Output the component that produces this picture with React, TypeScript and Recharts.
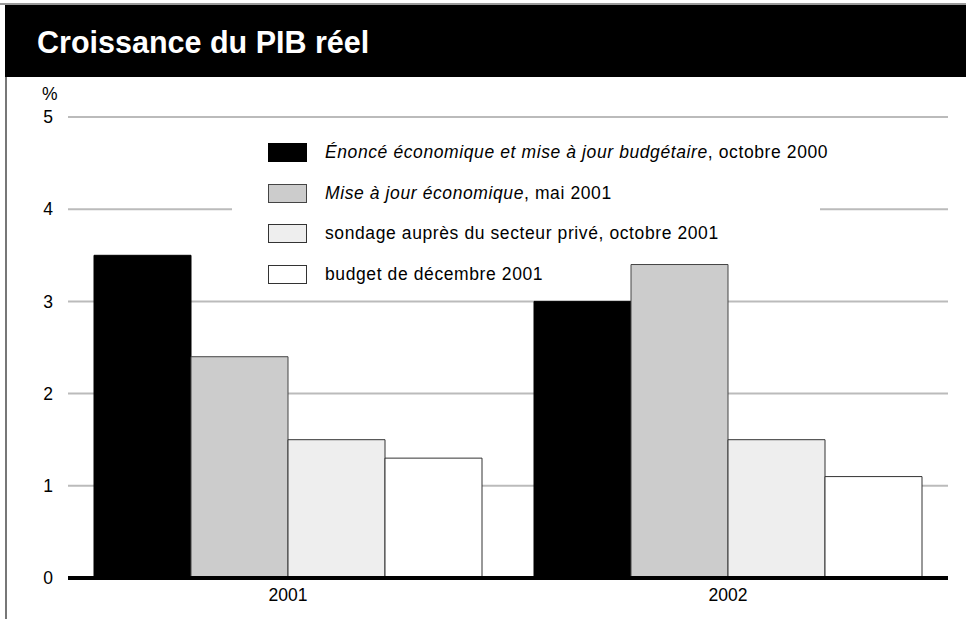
import React from "react";
import {Bar, BarChart, CartesianGrid, ReferenceLine, XAxis, YAxis} from "recharts";

const years = ['2001', '2002'];
const enonceOct2000 = [3.5, 3.0];
const miseAJourMai2001 = [2.4, 3.4];
const sondageOct2001 = [1.5, 1.5];
const budgetDec2001 = [1.3, 1.1];
const yTicks = [0, 1, 2, 3, 4, 5];

const FONT = '"Liberation Sans", Arial, sans-serif';

const series = [
    {key: 'enonce', values: enonceOct2000, fill: '#000000', stroke: '#000000', italic: 'Énoncé économique et mise à jour budgétaire', rest: ', octobre 2000'},
    {key: 'miseAJour', values: miseAJourMai2001, fill: '#cccccc', stroke: '#444444', italic: 'Mise à jour économique', rest: ', mai 2001'},
    {key: 'sondage', values: sondageOct2001, fill: '#eeeeee', stroke: '#333333', italic: '', rest: 'sondage auprès du secteur privé, octobre 2001'},
    {key: 'budget', values: budgetDec2001, fill: '#ffffff', stroke: '#333333', italic: '', rest: 'budget de décembre 2001'},
];

const data = years.map((year, i) => {
    const row: { [key: string]: string | number } = {year};
    series.forEach((s) => {
        row[s.key] = s.values[i];
    });
    return row;
});

// white patch that breaks the gridlines behind the legend (bars still sit on top of it in the original)
const LegendBackground = () => (
    <div style={{position: 'absolute', left: 232, top: 132, width: 588, height: 122, background: '#fff'}}/>
);

const ChartLegend = () => (
    <div style={{
        position: 'absolute', left: 232, top: 132, width: 588,
        fontFamily: FONT, fontSize: 17.5, letterSpacing: 0.6, color: '#000',
    }}>
        {series.map((s, i) => (
            <div key={s.key} style={{
                position: 'absolute', left: 36, top: 11 + i * 40.5, height: 19,
                display: 'flex', alignItems: 'center', whiteSpace: 'nowrap',
            }}>
                <span style={{
                    display: 'inline-block', width: 37, height: 17, background: s.fill,
                    border: `1px solid ${s.stroke}`, marginRight: 18,
                }}/>
                <span>
                    {s.italic && <i>{s.italic}</i>}
                    {s.rest}
                </span>
            </div>
        ))}
    </div>
);

export default function App() {
    return (
        <div style={{position: 'absolute', left: 0, top: 0, width: 966, height: 619, background: '#fff', overflow: 'hidden'}}>
            <div style={{position: 'absolute', left: 0, top: 3, width: 966, height: 2, background: '#999'}}/>
            <div style={{position: 'absolute', left: 5, top: 77, width: 2, height: 542, background: '#777'}}/>
            <div style={{
                position: 'absolute', left: 5, top: 5, width: 961, height: 72, background: '#000',
                color: '#fff', fontFamily: FONT, fontWeight: 'bold', fontSize: 30.5,
                lineHeight: '74px', paddingLeft: 32, boxSizing: 'border-box',
            }}>
                Croissance du PIB réel
            </div>
            <div style={{position: 'absolute', left: 42, top: 84, fontFamily: FONT, fontSize: 17.5}}>%</div>
            <div style={{position: 'absolute', left: 0, top: 0}}>
                <BarChart
                    width={966}
                    height={619}
                    data={data}
                    margin={{top: 117, right: 18, bottom: 11, left: 0}}
                    barCategoryGap={26}
                    barGap={0}
                >
                    <CartesianGrid vertical={false} stroke={'#bbbbbb'} strokeWidth={2}/>
                    <XAxis
                        dataKey="year"
                        axisLine={false}
                        tickLine={false}
                        tickSize={0}
                        tickMargin={11}
                        height={30}
                        tick={{fill: '#000', fontSize: 17.5, fontFamily: FONT}}
                    />
                    <YAxis
                        width={68}
                        domain={[0, 5]}
                        ticks={yTicks}
                        axisLine={false}
                        tickLine={false}
                        tickSize={0}
                        tickMargin={15}
                        tick={{fill: '#000', fontSize: 17.5, fontFamily: FONT}}
                    />
                    {series.map((s) => (
                        <Bar
                            key={s.key}
                            dataKey={s.key}
                            fill={s.fill}
                            stroke={s.stroke}
                            strokeWidth={1}
                            isAnimationActive={false}
                        />
                    ))}
                    <ReferenceLine y={0} stroke={'#000'} strokeWidth={4}/>
                </BarChart>
            </div>
            <LegendBackground/>
            <ChartLegend/>
        </div>
    );
}
